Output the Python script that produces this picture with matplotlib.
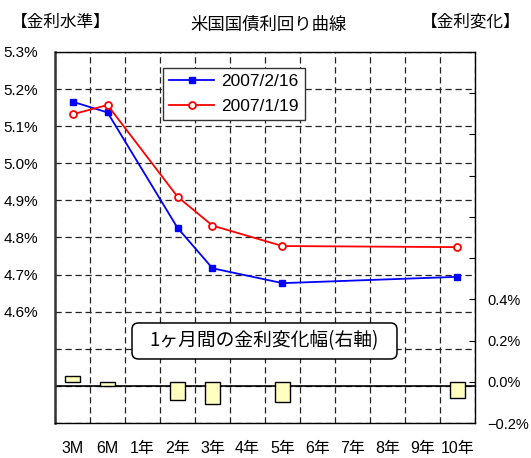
import numpy as np
import matplotlib
matplotlib.use('Agg')
import matplotlib.pyplot as plt
from matplotlib.patches import FancyBboxPatch

JP = ['Noto Sans CJK JP', 'DejaVu Sans']
NUM = ['Liberation Sans Narrow', 'Liberation Sans', 'Noto Sans CJK JP']
plt.rcParams['font.family'] = JP

categories = ['3M', '6M', '1年', '2年', '3年', '4年', '5年', '6年', '7年', '8年', '9年', '10年']

# yields (%) by category, None = no data
yield_0216 = [5.166, 5.137, None, 4.826, 4.717, None, 4.677, None, None, None, None, 4.694]
yield_0119 = [5.132, 5.157, None, 4.910, 4.832, None, 4.777, None, None, None, None, 4.774]
# 1-month change (%)
change = [0.03, -0.02, None, -0.09, -0.11, None, -0.10, None, None, None, None, -0.08]

left_ticks = [4.3, 4.4, 4.5, 4.6, 4.7, 4.8, 4.9, 5.0, 5.1, 5.2, 5.3]
left_labels = ['', '', '', '4.6%', '4.7%', '4.8%', '4.9%', '5.0%', '5.1%', '5.2%', '5.3%']
right_ticks = [-0.2, 0.0, 0.2, 0.4, 0.6, 0.8, 1.0, 1.2, 1.4, 1.6]
right_labels = ['\u22120.2%', '0.0%', '0.2%', '0.4%', '', '', '', '', '', '']

fig = plt.figure(figsize=(5.31, 4.58), dpi=100)
ax = fig.add_axes([0.1036, 0.0764, 0.7909, 0.8101])
ax2 = ax.twinx()

x = np.arange(len(categories))
dash = (0, (5, 3))

# grid
ax.set_xlim(-0.5, len(categories) - 0.5)
ax.set_xticks(x)
ax.set_xticklabels(categories, family=NUM, fontsize=11.5)
ax.set_xticks(np.arange(-0.5, len(categories), 1), minor=True)
ax.tick_params(axis='x', which='both', length=0, pad=13)
ax.grid(axis='x', which='minor', color='#222222', linestyle=dash, linewidth=0.9)
ax.set_ylim(4.3, 5.3)
ax.set_yticks(left_ticks)
ax.set_yticklabels(left_labels, family=NUM, fontsize=11)
ax.tick_params(axis='y', length=0, pad=12)
ax.grid(axis='y', which='major', color='#222222', linestyle=dash, linewidth=0.9)
ax.axhline(4.4, color='black', linewidth=1.2, zorder=2)

for s in ['top', 'right', 'bottom']:
    ax.spines[s].set_linewidth(1.0)
ax.spines['left'].set_linewidth(1.8)
ax.spines['left'].set_color('#333333')

# lines
def valid(vals):
    xs = [i for i, v in enumerate(vals) if v is not None]
    return xs, [vals[i] for i in xs]

xb, yb = valid(yield_0216)
xr, yr = valid(yield_0119)
l1, = ax.plot(xb, yb, color='#0000ff', linewidth=1.3, marker='s', markersize=5,
              markerfacecolor='#0000ff', markeredgecolor='#0000ff', label='2007/2/16', zorder=4)
l2, = ax.plot(xr, yr, color='#ff0000', linewidth=1.3, marker='o', markersize=5,
              markerfacecolor='white', markeredgecolor='#ff0000', markeredgewidth=1.3,
              label='2007/1/19', zorder=4)

# bars (right axis)
xc, yc = valid(change)
ax2.set_ylim(-0.2, 1.6)
ax2.bar(xc, yc, width=0.45, color='#ffffc0', edgecolor='black', linewidth=1.0, zorder=3)
ax2.set_yticks(right_ticks)
ax2.set_yticklabels(right_labels, family=NUM, fontsize=10.5)
ax2.tick_params(axis='y', direction='in', length=4, pad=9, width=0.8)
for s in ax2.spines.values():
    s.set_visible(False)

# annotation box
box = FancyBboxPatch((0.2486, 0.2162), 0.499, 0.0786,
                     boxstyle='round,pad=0,rounding_size=0.012',
                     mutation_aspect=531 / 458, transform=fig.transFigure,
                     facecolor='white', edgecolor='black', linewidth=1.1,
                     zorder=5, clip_on=False)
ax2.add_patch(box)
ax2.text(0.2486 + 0.499 / 2, 0.2162 + 0.0786 / 2, '1ヶ月間の金利変化幅(右軸)',
         transform=fig.transFigure, fontsize=13.5, ha='center', va='center', zorder=6)

leg = ax2.legend([l1, l2], ['2007/2/16', '2007/1/19'], loc='upper left',
                 bbox_to_anchor=(0.257, 0.957), borderaxespad=0, fancybox=False,
                 edgecolor='#333333', framealpha=1, prop={'family': NUM, 'size': 12.5},
                 handlelength=2.6, handletextpad=0.4, labelspacing=0.55,
                 borderpad=0.35)
leg.get_frame().set_linewidth(1.0)
leg.set_zorder(7)

# titles
fig.text(0.505, 0.945, '米国国債利回り曲線', fontsize=12.5, ha='center', va='center')
fig.text(0.02, 0.952, '【金利水準】', fontsize=12, ha='left', va='center')
fig.text(0.98, 0.952, '【金利変化】', fontsize=12, ha='right', va='center')

fig.savefig('out.png', dpi=100)
